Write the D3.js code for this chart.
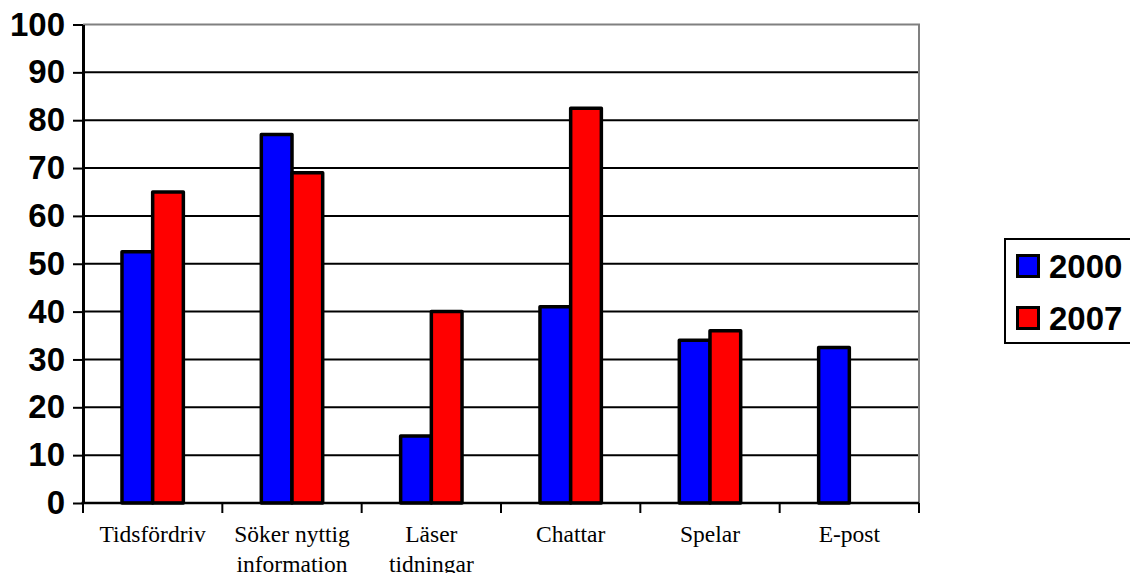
<!DOCTYPE html>
<html>
<head>
<meta charset="utf-8">
<script src="https://cdn.jsdelivr.net/npm/d3@7"></script>
<style>
  html, body { margin: 0; padding: 0; background: #fff; overflow: hidden; }
  svg { display: block; }
</style>
</head>
<body>
<svg id="chart" width="1130" height="573"></svg>
<script>
const categories = [["Tidsfördriv"], ["Söker nyttig", "information"], ["Läser", "tidningar"], ["Chattar"], ["Spelar"], ["E-post"]];
const seriesNames = ["2000", "2007"];
const values2000 = [52.5, 77, 14, 41, 34, 32.5];
const values2007 = [65, 69, 40, 82.5, 36, null];
const seriesColors = ["#0000FF", "#FF0000"];
const yTicks = [0, 10, 20, 30, 40, 50, 60, 70, 80, 90, 100];

(function () {
const seriesValues = [values2000, values2007];
const catKeys = categories.map(c => c.join(" "));

const svg = d3.select("#chart");
const mLeft = 83, mRight = 919, mTop = 24.5, mBottom = 503;

const x = d3.scaleBand().domain(catKeys).range([mLeft, mRight]).padding(0);
const x1 = d3.scaleBand().domain(seriesNames).range([0, x.bandwidth()]).paddingInner(0).paddingOuter(1.27);
const y = d3.scaleLinear().domain([0, 100]).range([mBottom, mTop]);

// gridlines
svg.append("g").selectAll("line")
  .data(yTicks.filter(t => t > 0 && t < 100))
  .join("line")
  .attr("x1", mLeft).attr("x2", mRight)
  .attr("y1", d => y(d)).attr("y2", d => y(d))
  .attr("stroke", "#000").attr("stroke-width", 2);

// top & right plot border (gray)
svg.append("path")
  .attr("d", `M${mLeft},${y(100)}H${mRight}V${y(0)}`)
  .attr("fill", "none").attr("stroke", "#808080").attr("stroke-width", 2);

// bars
const barData = [];
catKeys.forEach((c, i) => {
  seriesNames.forEach((s, j) => {
    const v = seriesValues[j][i];
    if (v != null) barData.push({ c, s, v, color: seriesColors[j] });
  });
});
svg.append("g").selectAll("rect")
  .data(barData)
  .join("rect")
  .attr("x", d => x(d.c) + x1(d.s))
  .attr("width", x1.bandwidth())
  .attr("y", d => y(d.v))
  .attr("height", d => y(0) - y(d.v))
  .attr("fill", d => d.color)
  .attr("stroke", "#000").attr("stroke-width", 3.5)
  .attr("stroke-linejoin", "round");

// y axis
const yAxis = svg.append("g")
  .attr("transform", `translate(${mLeft},0)`)
  .call(d3.axisLeft(y).tickValues(yTicks).tickSize(10).tickPadding(8).tickSizeOuter(0));
yAxis.select(".domain").attr("stroke", "#000").attr("stroke-width", 3);
yAxis.selectAll(".tick line").attr("stroke", "#000").attr("stroke-width", 2);
yAxis.selectAll(".tick text")
  .attr("fill", "#000")
  .style("font-family", "'Liberation Sans', Arial, sans-serif")
  .style("font-weight", "bold")
  .style("font-size", "33px");

// x axis
const xg = svg.append("g");
xg.append("line")
  .attr("x1", mLeft - 1.5).attr("x2", mRight)
  .attr("y1", y(0)).attr("y2", y(0))
  .attr("stroke", "#000").attr("stroke-width", 2.5);
const boundaries = catKeys.map(c => x(c)).concat([x.range()[1]]);
xg.selectAll("line.tick")
  .data(boundaries)
  .join("line")
  .attr("class", "tick")
  .attr("x1", d => d).attr("x2", d => d)
  .attr("y1", y(0)).attr("y2", y(0) + 10)
  .attr("stroke", "#000").attr("stroke-width", 2);
const labels = xg.selectAll("text")
  .data(categories)
  .join("text")
  .attr("text-anchor", "middle")
  .attr("x", (d, i) => x(catKeys[i]) + x.bandwidth() / 2)
  .attr("y", 541.5)
  .style("font-family", "'Liberation Serif', 'Times New Roman', serif")
  .style("font-size", "23.5px")
  .attr("fill", "#000");
labels.selectAll("tspan")
  .data((d, i) => d.map(t => ({ t, i })))
  .join("tspan")
  .attr("x", d => x(catKeys[d.i]) + x.bandwidth() / 2)
  .attr("dy", (d, k) => k === 0 ? 0 : 30)
  .text(d => d.t);

// legend
const lg = svg.append("g");
lg.append("rect")
  .attr("x", 1005).attr("y", 239).attr("width", 140).attr("height", 104)
  .attr("fill", "#fff").attr("stroke", "#000").attr("stroke-width", 2);
seriesNames.forEach((s, j) => {
  lg.append("rect")
    .attr("x", 1017.5).attr("y", 255.5 + j * 52).attr("width", 21).attr("height", 21)
    .attr("fill", seriesColors[j]).attr("stroke", "#000").attr("stroke-width", 3);
  lg.append("text")
    .attr("x", 1049).attr("y", 277.5 + j * 52.5)
    .style("font-family", "'Liberation Sans', Arial, sans-serif")
    .style("font-weight", "bold")
    .style("font-size", "33px")
    .attr("fill", "#000")
    .text(s);
});
})();
</script>
</body>
</html>
